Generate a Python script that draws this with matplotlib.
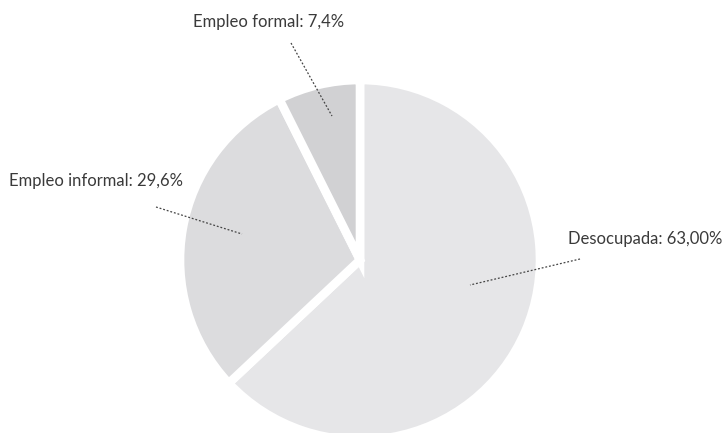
import matplotlib
matplotlib.use("Agg")
import matplotlib.pyplot as plt

# Distribución de la población (porcentaje)
categorias = ["Desocupada", "Empleo informal", "Empleo formal"]
valores = [63.0, 29.6, 7.4]
etiquetas = ["Desocupada: 63,00%", "Empleo informal: 29,6%", "Empleo formal: 7,4%"]
colores = ["#e6e6e8", "#dcdcde", "#d1d1d3"]

W, H = 727, 433
fig = plt.figure(figsize=(W / 100, H / 100), dpi=100)
ax = fig.add_axes([0, 0, 1, 1])

centro = (360, H - 260)
ax.pie(valores, colors=colores, startangle=90, counterclock=False,
       center=centro, radius=180, frame=True,
       wedgeprops=dict(edgecolor="white", linewidth=6.2))
ax.set_xlim(0, W)
ax.set_ylim(0, H)
ax.axis("off")

# Posiciones de las etiquetas y de los extremos de las guías punteadas
texto_pos = {
    "Desocupada": (568, 239),
    "Empleo informal": (9, 181),
    "Empleo formal": (193, 22),
}
guia = {
    "Desocupada": ((580, 259), (470, 285)),
    "Empleo informal": ((156, 207), (242, 234)),
    "Empleo formal": ((291, 43), (332, 116)),
}

for cat, lab in zip(categorias, etiquetas):
    tx, ty = texto_pos[cat]
    ax.text(tx, H - ty, lab, ha="left", va="center", fontsize=12,
            color="#3a3a3a", family=["Lato", "DejaVu Sans"])
    (x0, y0), (x1, y1) = guia[cat]
    ax.plot([x0, x1], [H - y0, H - y1], color="#444444", lw=0.9,
            linestyle=(0, (1.5, 1.5)))

fig.savefig("out.png", dpi=100)
